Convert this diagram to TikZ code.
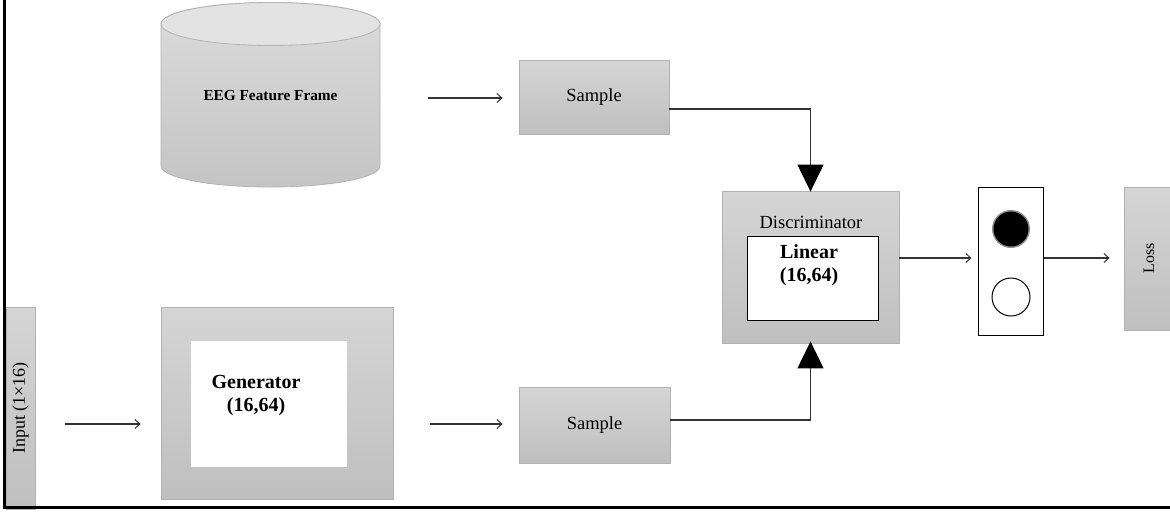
\documentclass[tikz,border=0pt]{standalone}
\usepackage{fontspec}
\setmainfont{Liberation Serif}
\usetikzlibrary{arrows.meta}

\begin{document}
\begin{tikzpicture}[x=1pt,y=-1pt,
  graybox/.style={draw=gray!60, line width=0.8pt, top color=gray!33, bottom color=gray!50, inner sep=0pt},
  whitebox/.style={fill=white, inner sep=0pt},
  framedbox/.style={draw=black, fill=white, line width=1pt, inner sep=0pt},
  conn/.style={draw=black!80, line width=1.1pt},
  thin arrow/.style={conn, -{Straight Barb[length=5pt,width=9pt,line width=1pt]}},
  big arrow/.style={conn, -{Triangle[length=27pt,width=26pt,color=black,fill=black]}},
  regtext/.style={font=\fontsize{18.5}{21}\selectfont},
  boldtext/.style={font=\fontsize{20}{23}\selectfont\bfseries, align=center}
]
\useasboundingbox (0,0) rectangle (1170,512);

% input strip
\node[graybox, minimum width=29pt, minimum height=202pt] (input) at (20.5,408) {};
\node[font=\fontsize{18}{20}\selectfont, rotate=90] (inputlbl) at (input.center) {Input (1×16)};

% generator
\node[graybox, minimum width=232pt, minimum height=192pt] (gen) at (277,403) {};
\node[whitebox, minimum width=156pt, minimum height=126pt] (genin) at (269,404) {};
\node[boldtext] (genlbl) at (256,396) {Generator\\(16,64)};

% EEG feature frame cylinder
\shade[top color=gray!28, bottom color=gray!46, draw=gray!60, line width=0.8pt]
  (161,24) -- (161,166) arc[start angle=180, end angle=0, x radius=109.5, y radius=21]
  -- (380,24) arc[start angle=0, end angle=-180, x radius=109.5, y radius=21.5] -- cycle;
\draw[fill=gray!22, draw=gray!60, line width=0.8pt] (270.5,24) ellipse[x radius=109.5, y radius=21.5];
\node[font=\fontsize{15.3}{17}\selectfont\bfseries, minimum width=219pt, minimum height=40pt] (eeg) at (270.5,96) {EEG Feature Frame};

% samples
\node[graybox, minimum width=150pt, minimum height=74pt, regtext] (sampleA) at (594,97) {Sample};
\node[graybox, minimum width=151pt, minimum height=76pt, regtext] (sampleB) at (594.5,425) {Sample};

% discriminator
\node[graybox, minimum width=177pt, minimum height=152pt] (disc) at (810.5,267) {};
\node[regtext] (disclbl) at (811,222) {Discriminator};
\node[framedbox, minimum width=131pt, minimum height=84pt] (lin) at (812.5,278) {};
\node[boldtext] (linlbl) at (809,265) {Linear\\(16,64)};

% real/fake output
\node[framedbox, minimum width=65pt, minimum height=148pt] (out) at (1010.5,261) {};
\node[circle, fill=black!45, inner sep=0pt, minimum size=38pt] (realhalo) at (1011,229) {};
\node[circle, fill=black, inner sep=0pt, minimum size=35pt] (real) at (1011,229) {};
\node[circle, draw=black, line width=1pt, fill=white, inner sep=0pt, minimum size=38pt] (fake) at (1011,297) {};

% loss
\node[graybox, minimum width=48pt, minimum height=143pt] (loss) at (1148,258.5) {};
\node[font=\fontsize{16}{18}\selectfont, rotate=90] (losslbl) at (1149,258.5) {Loss};

% connectors
\draw[thin arrow] ([xshift=30pt]input.east |- 0,424) -- ([xshift=-20pt]gen.west |- 0,424);
\draw[thin arrow] ([xshift=48pt]eeg.east |- 0,98) -- ([xshift=-16pt]sampleA.west |- 0,98);
\draw[thin arrow] ([xshift=37pt]gen.east |- 0,424) -- ([xshift=-16pt]sampleB.west |- 0,424);
\draw[big arrow] ([yshift=-12pt]sampleA.east) -| ([yshift=-1pt]disc.north);
\draw[big arrow] ([yshift=5pt]sampleB.east) -| ([yshift=2pt]disc.south);
\draw[thin arrow] (disc.east |- 0,258) -- ([xshift=-6pt]out.west |- 0,258);
\draw[thin arrow] (out.east |- 0,258) -- ([xshift=-14pt]loss.west |- 0,258);

% frame
\draw[black, line width=3pt] (4.5,0) -- (4.5,507) -- (1170,507);
\end{tikzpicture}
\end{document}
